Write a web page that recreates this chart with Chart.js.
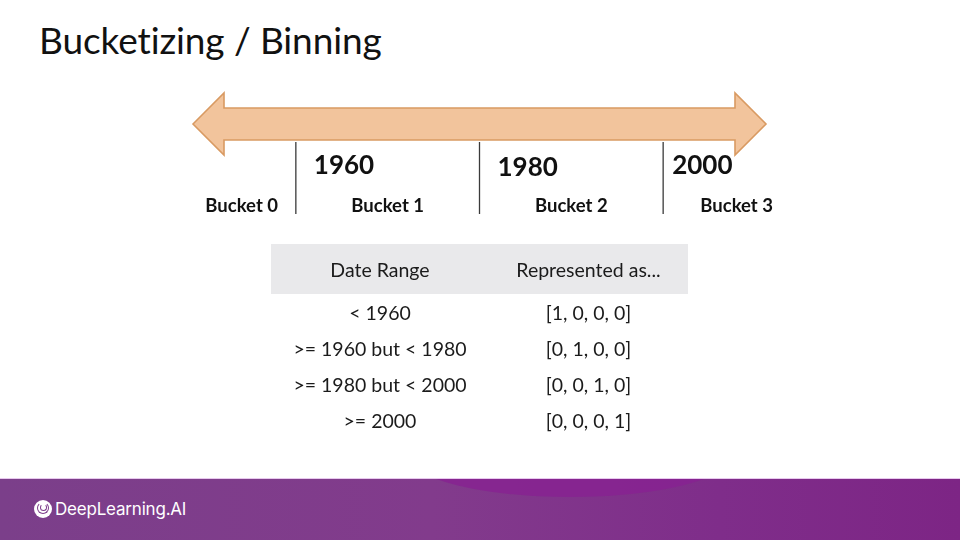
<!DOCTYPE html>
<html>
<head>
<meta charset="utf-8">
<script src="https://cdn.jsdelivr.net/npm/chart.js@4"></script>
<style>
  html, body { margin: 0; padding: 0; background: #fff; }
  #slide { position: relative; width: 960px; height: 540px; overflow: hidden; background: #fff; font-family: Lato, "Open Sans", sans-serif; color: #1b1b1b; }
  #timeline { position: absolute; left: 0; top: 0; }
  h1 { position: absolute; left: 39px; top: 17px; margin: 0; font-weight: 400; font-size: 37px; letter-spacing: -0.1px; color: #111; }
  table { position: absolute; left: 271px; top: 244px; width: 417px; border-collapse: collapse; font-size: 19.5px; }
  th { background: #e9e9eb; font-weight: 400; height: 50px; padding: 0; }
  td { height: 36px; text-align: center; padding: 0; }
  td:first-child, th:first-child { width: 218px; }
  #footer { position: absolute; left: 0; top: 478px; width: 960px; height: 62px; background: linear-gradient(90deg, #7b3f8a 0%, #823b8c 45%, #7f2d8a 75%, #7d2585 100%); border-top: 1px solid #e8c8ee; box-sizing: border-box; overflow: hidden; }
  #wave { position: absolute; left: 410px; top: -62px; width: 320px; height: 80px; border-radius: 50%; background: #872291; opacity: 0.8; }
  #logo { position: absolute; left: 34px; top: 20px; display: flex; align-items: center; color: #fff; font-family: Inter, "Noto Sans", sans-serif; font-size: 17px; letter-spacing: -0.2px; }
  #mark { width: 18px; height: 18px; border-radius: 50%; background: #fff; margin-right: 3px; position: relative; }
  #mark::before { content: ""; position: absolute; left: 3px; top: 2px; width: 10px; height: 10px; border-radius: 50%; border: 1.5px solid #7d3d8b; border-top-color: transparent; }
  #mark::after { content: ""; position: absolute; left: 6px; top: 4px; width: 5px; height: 5px; border-radius: 50%; border: 1.2px solid #7d3d8b; border-top-color: transparent; }
</style>
</head>
<body>
<div id="slide">
  <h1>Bucketizing / Binning</h1>
  <canvas id="timeline" width="960" height="540"></canvas>
  <table id="ranges"></table>
  <div id="footer"><div id="wave"></div><div id="logo"><div id="mark"></div>DeepLearning.AI</div></div>
</div>
<script>
// timeline (years)
const timelineStart = 1948.8;
const timelineEnd = 2011.2;
const boundaries = [1960, 1980, 2000];
const boundaryLabels = ["1960", "1980", "2000"];
const bucketNames = ["Bucket 0", "Bucket 1", "Bucket 2", "Bucket 3"];
const bucketCenters = [1954.1, 1970, 1990, 2008];

// table
const tableHeaders = ["Date Range", "Represented as..."];
const dateRanges = ["< 1960", ">= 1960 but < 1980", ">= 1980 but < 2000", ">= 2000"];
const encodings = [[1, 0, 0, 0], [0, 1, 0, 0], [0, 0, 1, 0], [0, 0, 0, 1]];

// build the table
const tbl = document.getElementById("ranges");
let html = "<tr>" + tableHeaders.map(h => "<th>" + h + "</th>").join("") + "</tr>";
dateRanges.forEach((r, i) => {
    const esc = r.replace(/</g, "&lt;").replace(/>/g, "&gt;");
    html += "<tr><td>" + esc + "</td><td>[" + encodings[i].join(", ") + "]</td></tr>";
});
tbl.innerHTML = html;

// arrow + labels
const timelinePlugin = {
    id: "timeline",
    beforeDatasetsDraw(chart) {
        const ctx = chart.ctx;
        const x = chart.scales.x;
        const x0 = x.getPixelForValue(timelineStart);
        const x1 = x.getPixelForValue(timelineEnd);
        const cy = 124, shaft = 16, head = 31, headLen = 31;
        ctx.save();
        ctx.beginPath();
        ctx.moveTo(x0, cy);
        ctx.lineTo(x0 + headLen, cy - head);
        ctx.lineTo(x0 + headLen, cy - shaft);
        ctx.lineTo(x1 - headLen, cy - shaft);
        ctx.lineTo(x1 - headLen, cy - head);
        ctx.lineTo(x1, cy);
        ctx.lineTo(x1 - headLen, cy + head);
        ctx.lineTo(x1 - headLen, cy + shaft);
        ctx.lineTo(x0 + headLen, cy + shaft);
        ctx.lineTo(x0 + headLen, cy + head);
        ctx.closePath();
        ctx.fillStyle = "#f2c49c";
        ctx.fill();
        ctx.lineWidth = 1.6;
        ctx.strokeStyle = "#d99a62";
        ctx.stroke();
        ctx.restore();
    },
    afterDraw(chart) {
        const ctx = chart.ctx;
        const x = chart.scales.x;
        const yearOffsets = [18, 18, 9];
        const yearY = [166, 168, 166];
        ctx.save();
        ctx.fillStyle = "#111";
        ctx.textBaseline = "middle";
        ctx.font = "bold 26px Lato";
        ctx.textAlign = "left";
        boundaries.forEach((b, i) => {
            ctx.fillText(boundaryLabels[i], x.getPixelForValue(b) + yearOffsets[i], yearY[i]);
        });
        ctx.font = "bold 18.5px Lato";
        ctx.textAlign = "center";
        bucketNames.forEach((n, i) => {
            ctx.fillText(n, x.getPixelForValue(bucketCenters[i]), 206);
        });
        ctx.restore();
    }
};

const canvas = document.getElementById("timeline");
const ctx = canvas.getContext("2d");

const chart = new Chart(ctx, {
    type: "scatter",
    data: {
        datasets: boundaries.map(b => ({
            label: String(b),
            data: [{ x: b, y: 0 }, { x: b, y: 1 }],
            showLine: true,
            borderColor: "#3a3a3a",
            borderWidth: 1.3,
            pointRadius: 0
        }))
    },
    options: {
        responsive: false,
        animation: false,
        layout: { padding: { left: 193, right: 194, top: 142, bottom: 326 } },
        plugins: { legend: { display: false }, tooltip: { enabled: false } },
        scales: {
            x: { type: "linear", min: timelineStart, max: timelineEnd, display: false },
            y: { type: "linear", min: 0, max: 1, display: false }
        }
    },
    plugins: [timelinePlugin]
});
</script>
</body>
</html>
